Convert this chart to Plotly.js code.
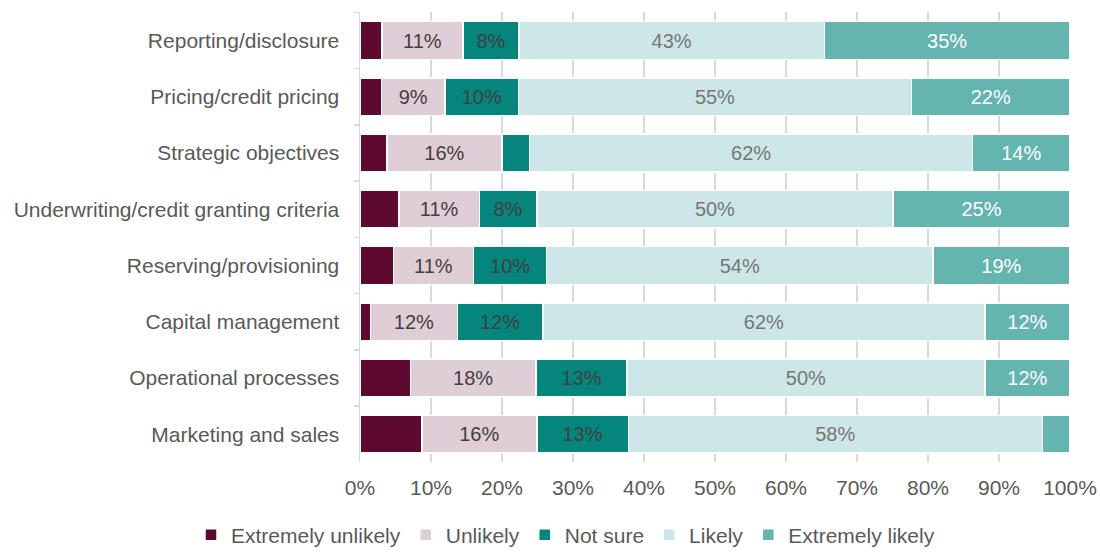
<!DOCTYPE html>
<html>
<head>
<meta charset="utf-8">
<script src="https://cdn.plot.ly/plotly-3.0.1.min.js"></script>
<style>html,body{margin:0;padding:0;background:#fff;}#chart{width:1100px;height:556px;}</style>
</head>
<body>
<div id="chart"></div>
<script>
const categories = ["Reporting/disclosure","Pricing/credit pricing","Strategic objectives","Underwriting/credit granting criteria","Reserving/provisioning","Capital management","Operational processes","Marketing and sales"];
const seriesNames = ["Extremely unlikely","Unlikely","Not sure","Likely","Extremely likely"];
const extremelyUnlikely = [3.1, 3.0, 3.8, 5.5, 4.7, 1.5, 7.1, 8.7];
const unlikely          = [11.4, 9.0, 16.2, 11.3, 11.3, 12.2, 17.7, 16.2];
const notSure           = [7.9, 10.3, 3.9, 8.1, 10.3, 12.1, 12.8, 12.9];
const likely            = [43.0, 55.4, 62.4, 50.2, 54.4, 62.2, 50.4, 58.3];
const extremelyLikely   = [34.6, 22.3, 13.7, 24.9, 19.3, 12.0, 12.0, 3.9];
const xTickLabels = ["0%","10%","20%","30%","40%","50%","60%","70%","80%","90%","100%"];

const colors = ["#5e0930","#e0ced7","#06857d","#cde7e8","#64b5b0"];
const textColors = ["#ffffff","#404040","#404040","#767676","#ffffff"];
const allSeries = [extremelyUnlikely, unlikely, notSure, likely, extremelyLikely];
const showLabel = [false, true, true, true, true];

const FONT = "Liberation Sans, Arial, sans-serif";
const traces = allSeries.map((vals, i) => ({
  type: "bar",
  orientation: "h",
  name: seriesNames[i],
  y: categories,
  x: vals,
  marker: {color: colors[i], line: {color: "#ffffff", width: 1.5}},
  text: vals.map(v => (showLabel[i] && v >= 5) ? Math.round(v) + "%" : ""),
  textposition: "inside",
  insidetextanchor: "middle",
  textangle: 0,
  constraintext: "none",
  textfont: {family: FONT, size: 20, color: textColors[i]},
  hoverinfo: "skip"
}));

const W = 1100, H = 556;
const layout = {
  width: W, height: H,
  margin: {l: 0, r: 0, t: 0, b: 0},
  barmode: "stack",
  bargap: 0.33,
  paper_bgcolor: "#ffffff",
  plot_bgcolor: "#ffffff",
  font: {family: FONT, color: "#595959", size: 21},
  xaxis: {
    domain: [360 / W, 1070 / W],
    range: [0, 100],
    tickvals: [0,10,20,30,40,50,60,70,80,90,100],
    ticktext: xTickLabels,
    showgrid: true, gridcolor: "#d9d9d9", gridwidth: 1.5,
    zeroline: false, showline: false,
    ticks: "outside", ticklen: 6, tickcolor: "rgba(0,0,0,0)",
    tickfont: {family: FONT, size: 21, color: "#595959"},
    automargin: false,
    fixedrange: true
  },
  yaxis: {
    domain: [(H - 467.4) / H, (H - 12.6) / H],
    autorange: "reversed",
    showline: true, linecolor: "#d9d9d9", linewidth: 1.5,
    ticks: "outside", ticklen: 5, tickcolor: "#d9d9d9", tickwidth: 1.5,
    tickson: "boundaries",
    ticklabelstandoff: 15,
    showgrid: false,
    tickfont: {family: FONT, size: 21, color: "#595959"},
    automargin: false,
    fixedrange: true
  },
  showlegend: true,
  legend: {
    orientation: "h",
    x: 191 / W, xanchor: "left",
    y: (H - 541) / H, yanchor: "middle",
    bgcolor: "rgba(0,0,0,0)",
    font: {family: FONT, size: 21, color: "#595959"},
    traceorder: "normal", itemwidth: 30
  }
};

Plotly.newPlot("chart", traces, layout, {displayModeBar: false, staticPlot: true});
</script>
</body>
</html>
